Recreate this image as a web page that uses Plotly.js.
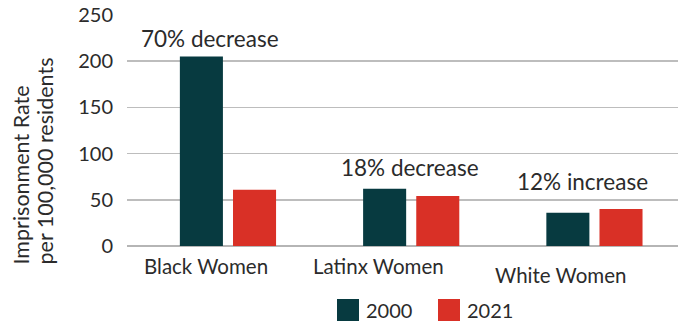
<!DOCTYPE html>
<html>
<head>
<meta charset="utf-8">
<script src="https://cdn.plot.ly/plotly-3.0.1.min.js"></script>
<style>
  html, body { margin: 0; padding: 0; background: #ffffff; }
  #chart { width: 678px; height: 324px; }
</style>
</head>
<body>
<div id="chart"></div>
<script>
// Women's imprisonment rate per 100,000 residents, 2000 vs 2021
const groups = ["Black Women", "Latinx Women", "White Women"];
const years = ["2000", "2021"];
const rate2000 = [205, 62, 36];
const rate2021 = [61, 54, 40];
const changeNotes = ["70% decrease", "18% decrease", "12% increase"];
const yTicks = [0, 50, 100, 150, 200, 250];
const yTitleLines = ["Imprisonment Rate", "per 100,000 residents"];

const colors = ["#073a40", "#d93026"];
const textColor = "#2b2b2b";
const fontFamily = "Lato, 'Source Sans Pro', 'Noto Sans', sans-serif";

// plot area in pixels
const W = 678, H = 324;
const margin = { l: 127, r: 0, t: 15, b: 78 };
const plotW = W - margin.l - margin.r;
const plotH = H - margin.t - margin.b;
const px2x = px => (px - margin.l) / plotW;
const px2y = py => (H - margin.b - py) / plotH;

// hand-tuned label nudges (pixels)
const noteShift = [[-18, 3], [-1, 6], [-12, 12]];
const catShift = [[-22, 0], [-33, 0], [-34, -9]];

const idx = groups.map((_, i) => i);
const series = [rate2000, rate2021];

const traces = series.map((vals, s) => ({
  type: "bar",
  x: idx,
  y: vals,
  name: years[s],
  marker: { color: colors[s] },
  showlegend: false,
  hoverinfo: "x+y"
}));

const annotations = [];
changeNotes.forEach((t, i) => {
  annotations.push({
    x: i, y: Math.max(rate2000[i], rate2021[i]),
    xref: "x", yref: "y",
    text: t, showarrow: false,
    xanchor: "center", yanchor: "bottom",
    xshift: noteShift[i][0], yshift: noteShift[i][1],
    font: { family: fontFamily, size: 22.5, color: textColor }
  });
});
groups.forEach((g, i) => {
  annotations.push({
    x: i, y: 0, xref: "x", yref: "paper",
    text: g, showarrow: false,
    xanchor: "center", yanchor: "top",
    xshift: catShift[i][0], yshift: -6 + catShift[i][1],
    font: { family: fontFamily, size: 20.5, color: textColor }
  });
});
// rotated y-axis title, one annotation per line, both starting at the same height
const titleX = [20, 44];
yTitleLines.forEach((t, k) => {
  annotations.push({
    x: px2x(titleX[k]), y: px2y(267), xref: "paper", yref: "paper",
    text: t, showarrow: false, textangle: -90,
    xanchor: "center", yanchor: "bottom",
    font: { family: fontFamily, size: 21.5, color: textColor }
  });
});

// legend: colour swatches with year labels
const shapes = [];
const legendX = [337, 438];
years.forEach((yr, s) => {
  shapes.push({
    type: "rect", xref: "paper", yref: "paper",
    x0: px2x(legendX[s]), x1: px2x(legendX[s] + 22),
    y0: px2y(321), y1: px2y(299),
    fillcolor: colors[s], line: { width: 0 }
  });
  annotations.push({
    x: px2x(legendX[s] + 27), y: px2y(310), xref: "paper", yref: "paper",
    text: yr, showarrow: false, xanchor: "left", yanchor: "middle",
    font: { family: fontFamily, size: 20, color: textColor }
  });
});

const layout = {
  width: W, height: H,
  margin: margin,
  paper_bgcolor: "#ffffff",
  plot_bgcolor: "#ffffff",
  barmode: "group",
  bargap: 0.42,
  bargroupgap: 0.19,
  font: { family: fontFamily, size: 20, color: textColor },
  xaxis: {
    range: [-0.551, 2.456],
    showticklabels: false,
    showgrid: false, zeroline: false,
    showline: false, ticks: ""
  },
  yaxis: {
    range: [0, 250],
    tickvals: yTicks,
    ticktext: yTicks.map(String),
    showgrid: true, gridcolor: "#bdbdbd", gridwidth: 1.6,
    zeroline: true, zerolinecolor: "#b5b5b5", zerolinewidth: 1.6,
    showline: false,
    ticks: "outside", ticklen: 9, tickcolor: "rgba(0,0,0,0)",
    tickfont: { family: fontFamily, size: 20, color: textColor }
  },
  annotations: annotations,
  shapes: shapes
};

Plotly.newPlot("chart", traces, layout, { displayModeBar: false, staticPlot: true });
</script>
</body>
</html>
